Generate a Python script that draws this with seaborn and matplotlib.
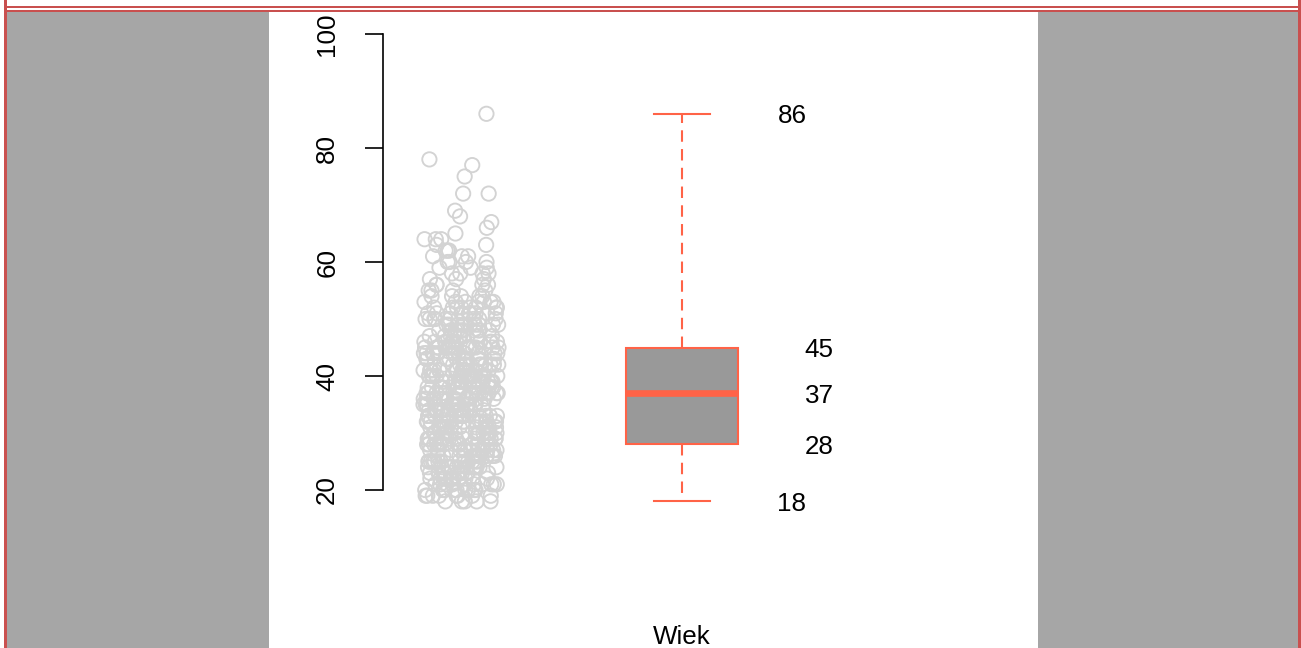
import numpy as np
import pandas as pd
import matplotlib
matplotlib.use("Agg")
import matplotlib.pyplot as plt
import matplotlib.transforms as mtransforms
from matplotlib.patches import Rectangle
import seaborn as sns

# ---- data (ages read from the jittered strip; counts per age) ----
ages = [18, 19, 20, 21, 22, 23, 24, 25, 26, 27,
        28, 29, 30, 31, 32, 33, 34, 35, 36,
        37, 38, 39, 40, 41, 42, 43, 44,
        45, 46, 47, 48, 49, 50, 51, 52, 53, 54, 55, 56, 57, 58, 59,
        60, 61, 62, 63, 64, 65, 66, 67, 68, 69, 72, 75, 77, 78, 86]
counts = [5, 8, 10, 10, 11, 12, 13, 13, 14, 14,
          16, 15, 16, 16, 15, 15, 14, 14, 14,
          15, 15, 15, 15, 14, 14, 13, 13,
          18, 11, 10, 10, 10, 9, 9, 8, 7, 5, 4, 4, 3, 4, 3,
          4, 3, 3, 2, 3, 1, 1, 1, 1, 1, 2, 1, 1, 1, 1]
stat_labels = ["86", "45", "37", "28", "18"]
stat_values = [86, 45, 37, 28, 18]
yticks = [20, 40, 60, 80, 100]
var_name = "Wiek"

values = np.repeat(ages, counts)
df_strip = pd.DataFrame({"g": "strip", var_name: values})
df_box = pd.DataFrame({"g": var_name, var_name: values})
order = ["strip", var_name]

FONT = "Liberation Sans"
plt.rcParams["font.family"] = [FONT, "DejaVu Sans"]
FS = 18.7

W, H = 1301, 648
fig = plt.figure(figsize=(W / 100, H / 100), dpi=100, facecolor="white")

def px_rect(x0, y0, x1, y1, color):
    fig.patches.append(Rectangle((x0 / W, 1 - y1 / H), (x1 - x0) / W, (y1 - y0) / H,
                                 transform=fig.transFigure, facecolor=color,
                                 edgecolor="none", zorder=0))

side_gray = "#A6A6A6"
frame_red = "#C9504F"
px_rect(7, 11, 269, H, side_gray)
px_rect(1038, 11, 1298, H, side_gray)
px_rect(4, 0, 7, H, frame_red)
px_rect(1298, 0, 1301, H, frame_red)
px_rect(7, 6, 1298, 8, frame_red)
px_rect(7, 10, 1298, 11.5, frame_red)

# axes: spine at x=383px, y=100 at 34px, y=20 at 490px
ax_left, ax_right = 383, 1038
ax_top = 34
ppu = (490 - 34) / 80.0
ymin = 14
ax_bottom = 490 + (20 - ymin) * ppu
ax = fig.add_axes([ax_left / W, 1 - ax_bottom / H, (ax_right - ax_left) / W,
                   (ax_bottom - ax_top) / H])
ax.set_facecolor("none")

np.random.seed(3)
sns.stripplot(data=df_strip, x="g", y=var_name, order=order, jitter=0.17,
              size=10.3, linewidth=1.35, color="#D3D3D3", edgecolor="#D3D3D3",
              ax=ax, zorder=3)
for coll in ax.collections:
    coll.set_facecolor("none")
    coll.set_edgecolor("#D3D3D3")

tomato = "#FF6347"
sns.boxplot(data=df_box, x="g", y=var_name, order=order, whis=(0, 100),
            width=0.507, color="#999999", saturation=1, linecolor=tomato,
            linewidth=1.5, ax=ax,
            medianprops={"linewidth": 4.8, "color": tomato},
            whiskerprops={"linestyle": (0, (5.5, 3.5)), "color": tomato},
            capprops={"color": tomato})

ppx = (682 - 461)
ax.set_xlim(-(461 - ax_left) / ppx, 1 + (ax_right - 682) / ppx)
ax.set_ylim(ymin, 100)

for s in ["top", "right", "bottom"]:
    ax.spines[s].set_visible(False)
ax.spines["left"].set_bounds(20, 100)
ax.spines["left"].set_linewidth(1.2)
ax.set_yticks(yticks)
ax.set_yticklabels([str(t) for t in yticks], rotation=90, va="center",
                   fontsize=FS, family=FONT)
ax.tick_params(axis="y", length=13, width=1.2, pad=18.5, colors="black")
ax.set_xticks([])
ax.set_xlabel("")
ax.set_ylabel("")

x_outer = 1 + (792 - 682) / ppx
x_inner = 1 + (819 - 682) / ppx
txt_trans = mtransforms.offset_copy(ax.transData, fig=fig, x=0, y=-2.5, units="dots")
for lab, v in zip(stat_labels, stat_values):
    xx = x_outer if v in (min(stat_values), max(stat_values)) else x_inner
    ax.text(xx, v, lab, ha="center", va="center", fontsize=FS, family=FONT,
            transform=txt_trans)

trans = mtransforms.blended_transform_factory(ax.transData, fig.transFigure)
ax.text(1, 1 - 637 / H, var_name, transform=trans, ha="center", va="center",
        fontsize=FS, family=FONT)

fig.savefig("out.png", dpi=100, facecolor="white")
